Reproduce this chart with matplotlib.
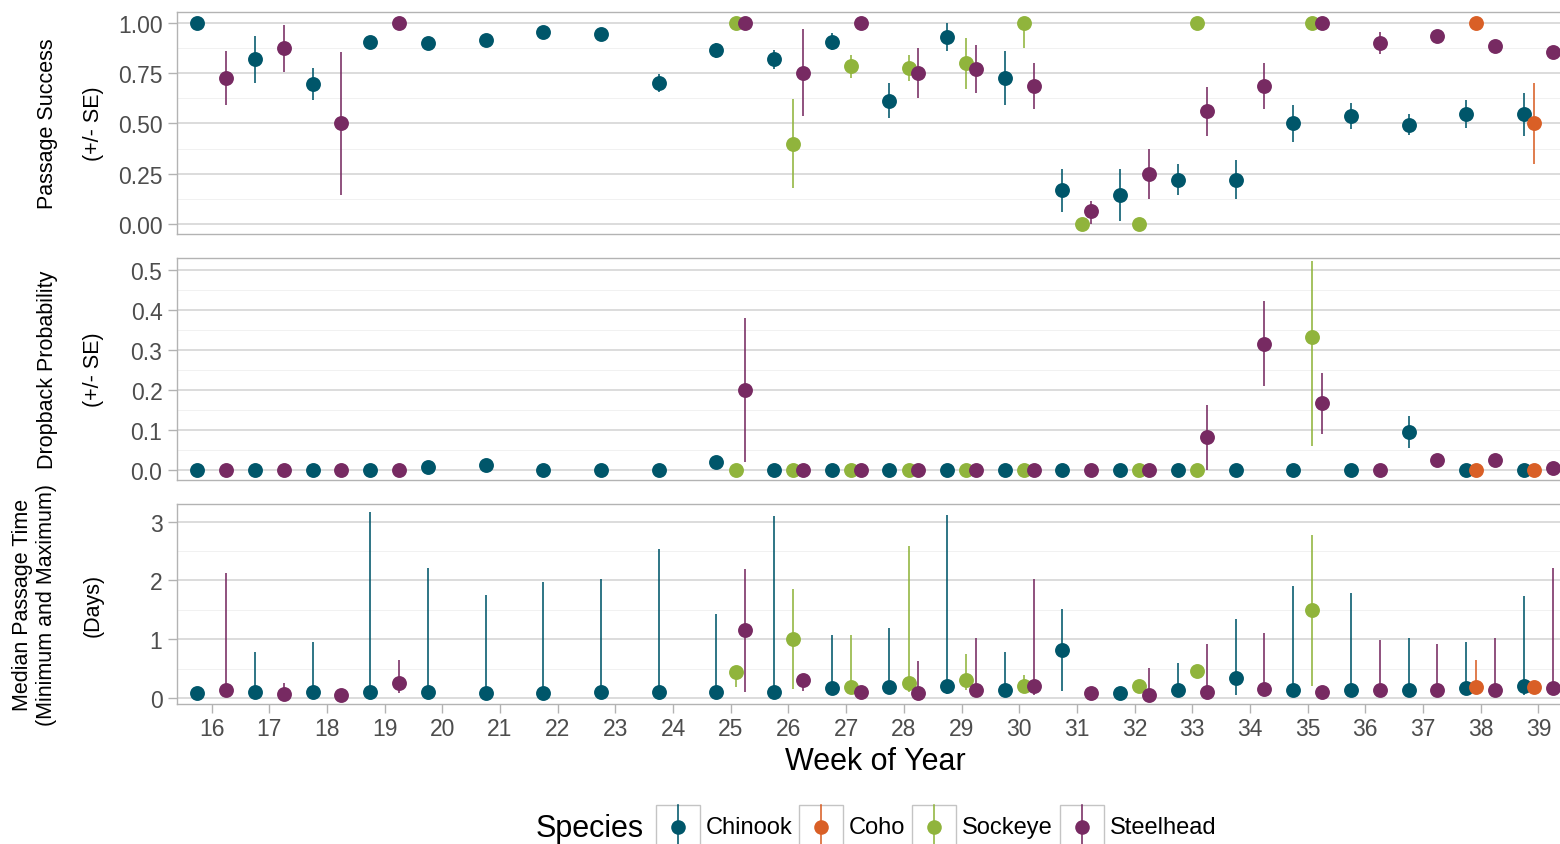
import matplotlib
matplotlib.use('Agg')
import matplotlib.pyplot as plt
import matplotlib.transforms as mtransforms
from matplotlib.patches import Rectangle
from matplotlib.lines import Line2D
from matplotlib.ticker import MultipleLocator, NullLocator
import numpy as np

plt.rcParams['font.family'] = ['Liberation Sans', 'DejaVu Sans']

SPECIES = ['Chinook', 'Coho', 'Sockeye', 'Steelhead']
COLORS = {'Chinook': '#00566a', 'Coho': '#d95f26', 'Sockeye': '#90b43c', 'Steelhead': '#772a62'}
# dodge offsets (4 groups, dodge width 2/3)
DODGE = {'Chinook': -0.25, 'Coho': -0.0833, 'Sockeye': 0.0833, 'Steelhead': 0.25}

chinook_weeks = list(range(16, 40))
coho_weeks = [38, 39]
sockeye_weeks_success = [25, 26, 27, 28, 29, 30, 31, 32, 33, 35]
sockeye_weeks = [25, 26, 27, 28, 29, 30, 32, 33, 35]
steelhead_weeks = [16, 17, 18, 19, 25, 26, 27, 28, 29, 30, 31, 32, 33, 34, 35, 36, 37, 38, 39]

# passage success (+/- SE)
chinook_success = [1.0, 0.818, 0.696, 0.904, 0.899, 0.916, 0.955, 0.946, 0.70, 0.863, 0.818, 0.906,
                   0.612, 0.929, 0.728, 0.167, 0.142, 0.221, 0.221, 0.50, 0.535, 0.493, 0.548, 0.548]
chinook_success_lo = [1.0, 0.70, 0.617, 0.904, 0.899, 0.916, 0.955, 0.946, 0.655, 0.825, 0.772, 0.865,
                      0.526, 0.86, 0.592, 0.059, 0.013, 0.142, 0.124, 0.406, 0.47, 0.442, 0.479, 0.439]
chinook_success_hi = [1.0, 0.934, 0.777, 0.904, 0.899, 0.916, 0.955, 0.946, 0.745, 0.90, 0.865, 0.95,
                      0.70, 0.997, 0.86, 0.274, 0.274, 0.30, 0.32, 0.594, 0.599, 0.546, 0.616, 0.65]
coho_success = [1.0, 0.50]
coho_success_lo = [1.0, 0.299]
coho_success_hi = [1.0, 0.703]
sockeye_success = [1.0, 0.40, 0.785, 0.774, 0.80, 1.0, 0.0, 0.0, 1.0, 1.0]
sockeye_success_lo = [1.0, 0.18, 0.728, 0.71, 0.673, 0.875, 0.0, 0.0, 1.0, 1.0]
sockeye_success_hi = [1.0, 0.62, 0.84, 0.84, 0.926, 1.0, 0.0, 0.0, 1.0, 1.0]
steelhead_success = [0.727, 0.875, 0.5, 1.0, 1.0, 0.75, 1.0, 0.75, 0.769, 0.688, 0.0625, 0.25,
                     0.5625, 0.688, 1.0, 0.90, 0.936, 0.884, 0.855]
steelhead_success_lo = [0.59, 0.757, 0.145, 1.0, 1.0, 0.535, 1.0, 0.625, 0.652, 0.573, 0.0, 0.125,
                        0.439, 0.573, 1.0, 0.847, 0.936, 0.884, 0.855]
steelhead_success_hi = [0.86, 0.99, 0.855, 1.0, 1.0, 0.967, 1.0, 0.876, 0.888, 0.802, 0.114, 0.373,
                        0.683, 0.802, 1.0, 0.954, 0.936, 0.884, 0.855]

# dropback probability (+/- SE)
chinook_drop = [0, 0, 0, 0, 0.008, 0.012, 0, 0, 0, 0.021, 0, 0,
                0, 0, 0, 0, 0, 0, 0, 0, 0, 0.094, 0, 0]
chinook_drop_lo = [0, 0, 0, 0, 0.008, 0.012, 0, 0, 0, 0.021, 0, 0,
                   0, 0, 0, 0, 0, 0, 0, 0, 0, 0.054, 0, 0]
chinook_drop_hi = [0, 0, 0, 0, 0.008, 0.012, 0, 0, 0, 0.021, 0, 0,
                   0, 0, 0, 0, 0, 0, 0, 0, 0, 0.136, 0, 0]
coho_drop = [0, 0]
coho_drop_lo = [0, 0]
coho_drop_hi = [0, 0]
sockeye_drop = [0, 0, 0, 0, 0, 0, 0, 0, 0.332]
sockeye_drop_lo = [0, 0, 0, 0, 0, 0, 0, 0, 0.061]
sockeye_drop_hi = [0, 0, 0, 0, 0, 0, 0, 0, 0.522]
steelhead_drop = [0, 0, 0, 0, 0.20, 0, 0, 0, 0, 0, 0, 0, 0.083, 0.316, 0.167, 0, 0.024, 0.024, 0.006]
steelhead_drop_lo = [0, 0, 0, 0, 0.021, 0, 0, 0, 0, 0, 0, 0, 0.0, 0.21, 0.091, 0, 0.024, 0.024, 0.006]
steelhead_drop_hi = [0, 0, 0, 0, 0.379, 0, 0, 0, 0, 0, 0, 0, 0.163, 0.423, 0.243, 0, 0.024, 0.024, 0.006]

# median passage time in days (minimum and maximum)
chinook_time = [0.09, 0.10, 0.10, 0.10, 0.10, 0.09, 0.08, 0.10, 0.10, 0.10, 0.10, 0.17,
                0.19, 0.21, 0.14, 0.82, 0.08, 0.14, 0.35, 0.13, 0.13, 0.14, 0.17, 0.21]
chinook_time_min = [0.09, 0.10, 0.10, 0.10, 0.10, 0.09, 0.08, 0.10, 0.10, 0.10, 0.10, 0.10,
                    0.10, 0.07, 0.10, 0.12, 0.08, 0.10, 0.06, 0.10, 0.10, 0.10, 0.10, 0.06]
chinook_time_max = [0.09, 0.79, 0.95, 3.17, 2.22, 1.76, 1.97, 2.03, 2.54, 1.43, 3.10, 1.07,
                    1.19, 3.12, 0.78, 1.52, 0.08, 0.60, 1.35, 1.90, 1.79, 1.02, 0.95, 1.74]
coho_time = [0.19, 0.19]
coho_time_min = [0.15, 0.19]
coho_time_max = [0.65, 0.19]
sockeye_time = [0.44, 1.0, 0.19, 0.26, 0.31, 0.21, 0.21, 0.46, 1.49]
sockeye_time_min = [0.19, 0.16, 0.10, 0.10, 0.13, 0.15, 0.21, 0.46, 0.21]
sockeye_time_max = [0.50, 1.86, 1.07, 2.59, 0.75, 0.39, 0.21, 0.46, 2.77]
steelhead_time = [0.13, 0.07, 0.06, 0.26, 1.16, 0.30, 0.10, 0.09, 0.14, 0.21, 0.09, 0.06,
                  0.10, 0.15, 0.11, 0.13, 0.14, 0.13, 0.17]
steelhead_time_min = [0.08, 0.07, 0.06, 0.08, 0.11, 0.12, 0.10, 0.09, 0.10, 0.06, 0.09, 0.06,
                      0.10, 0.10, 0.11, 0.10, 0.10, 0.10, 0.10]
steelhead_time_max = [2.13, 0.26, 0.06, 0.65, 2.19, 0.35, 0.10, 0.63, 1.02, 2.03, 0.09, 0.51,
                      0.92, 1.11, 0.11, 0.98, 0.92, 1.03, 2.21]

week_ticks = list(range(16, 40))

W, H = 1560, 845
fig = plt.figure(figsize=(W / 100, H / 100), dpi=100)

def fx(px):
    return px / W

def fy(py):
    return 1 - py / H

# panel boxes (the x range runs a little past the right edge of the figure)
left, width = fx(177), (1573 - 177) / W
ax1 = fig.add_axes([left, fy(235), width, 222 / H])
ax2 = fig.add_axes([left, fy(481), width, 222 / H])
ax3 = fig.add_axes([left, fy(705), width, 200 / H])

panels = [
    (ax1, {
        'Chinook': (chinook_weeks, chinook_success, chinook_success_lo, chinook_success_hi),
        'Coho': (coho_weeks, coho_success, coho_success_lo, coho_success_hi),
        'Sockeye': (sockeye_weeks_success, sockeye_success, sockeye_success_lo, sockeye_success_hi),
        'Steelhead': (steelhead_weeks, steelhead_success, steelhead_success_lo, steelhead_success_hi),
    }),
    (ax2, {
        'Chinook': (chinook_weeks, chinook_drop, chinook_drop_lo, chinook_drop_hi),
        'Coho': (coho_weeks, coho_drop, coho_drop_lo, coho_drop_hi),
        'Sockeye': (sockeye_weeks, sockeye_drop, sockeye_drop_lo, sockeye_drop_hi),
        'Steelhead': (steelhead_weeks, steelhead_drop, steelhead_drop_lo, steelhead_drop_hi),
    }),
    (ax3, {
        'Chinook': (chinook_weeks, chinook_time, chinook_time_min, chinook_time_max),
        'Coho': (coho_weeks, coho_time, coho_time_min, coho_time_max),
        'Sockeye': (sockeye_weeks, sockeye_time, sockeye_time_min, sockeye_time_max),
        'Steelhead': (steelhead_weeks, steelhead_time, steelhead_time_min, steelhead_time_max),
    }),
]

for ax, data in panels:
    for i, name in enumerate(SPECIES):
        weeks, val, lo, hi = data[name]
        x = np.array(weeks) + DODGE[name]
        ax.vlines(x, lo, hi, color=COLORS[name], lw=1.15, zorder=3 + 2 * i)
        ax.scatter(x, val, s=115, color=COLORS[name], linewidths=0, zorder=4 + 2 * i)

    ax.set_xlim(15.4, 39.6)
    ax.set_facecolor('white')
    for sp in ax.spines.values():
        sp.set_color('#b3b3b3')
        sp.set_linewidth(1.0)
    ax.grid(axis='y', which='major', color='#d9d9d9', lw=1.3, zorder=0)
    ax.grid(axis='y', which='minor', color='#f1f1f1', lw=0.7, zorder=0)
    ax.set_axisbelow(True)
    ax.tick_params(axis='y', which='major', colors='#b3b3b3', labelcolor='#4d4d4d',
                   labelsize=16.5, length=6.5, width=1.0, pad=4)
    ax.tick_params(axis='y', which='minor', left=False)

# y scales
ax1.set_ylim(-0.05, 1.054)
ax1.set_yticks([0, 0.25, 0.5, 0.75, 1.0])
ax1.set_yticklabels(['0.00', '0.25', '0.50', '0.75', '1.00'])
ax1.yaxis.set_minor_locator(MultipleLocator(0.125))

ax2.set_ylim(-0.025, 0.53)
ax2.set_yticks([0, 0.1, 0.2, 0.3, 0.4, 0.5])
ax2.set_yticklabels(['0.0', '0.1', '0.2', '0.3', '0.4', '0.5'])
ax2.yaxis.set_minor_locator(MultipleLocator(0.05))

ax3.set_ylim(-0.1, 3.3)
ax3.set_yticks([0, 1, 2, 3])
ax3.set_yticklabels(['0', '1', '2', '3'])
ax3.yaxis.set_minor_locator(MultipleLocator(0.5))

for ax in (ax1, ax2):
    ax.set_xticks([])
ax3.set_xticks(week_ticks)
ax3.set_xticklabels([str(w) for w in week_ticks])
ax3.xaxis.set_minor_locator(NullLocator())
ax3.tick_params(axis='x', colors='#b3b3b3', labelcolor='#4d4d4d', labelsize=16.5,
                length=6.5, width=1.0, pad=3)
ax3.set_xlabel('Week of Year', fontsize=22, color='black', labelpad=4)

# y-axis titles, one text per line so the line pitch stays even
titles = [
    (ax1, [('Passage Success', 48), ('(+/- SE)', 93)]),
    (ax2, [('Dropback Probability', 48), ('(+/- SE)', 93)]),
    (ax3, [('Median Passage Time', 23), ('(Minimum and Maximum)', 47), ('(Days)', 93)]),
]
for ax, lines in titles:
    tr = mtransforms.blended_transform_factory(fig.transFigure, ax.transAxes)
    for t, xc in lines:
        ax.text(fx(xc), 0.5, t, transform=tr, rotation=90, ha='center', va='center',
                fontsize=15.5, color='black')

# legend
fig.text(fx(590), fy(829), 'Species', ha='center', va='center', fontsize=22)
key_left = [656, 799, 912, 1060]
for name, kx in zip(SPECIES, key_left):
    fig.patches.append(Rectangle((fx(kx), fy(850)), 44 / W, 44 / H, transform=fig.transFigure,
                                 facecolor='white', edgecolor='#c4c4c4', lw=1.0))
    fig.lines.append(Line2D([fx(kx + 22)] * 2, [fy(806), fy(850)], transform=fig.transFigure,
                            color=COLORS[name], lw=1.15))
    fig.lines.append(Line2D([fx(kx + 22)], [fy(828)], transform=fig.transFigure, marker='o',
                            markersize=10.5, markeredgewidth=0, color=COLORS[name]))
    fig.text(fx(kx + 50), fy(828), name, ha='left', va='center', fontsize=17)

fig.savefig('out.png', dpi=100, facecolor='white')
